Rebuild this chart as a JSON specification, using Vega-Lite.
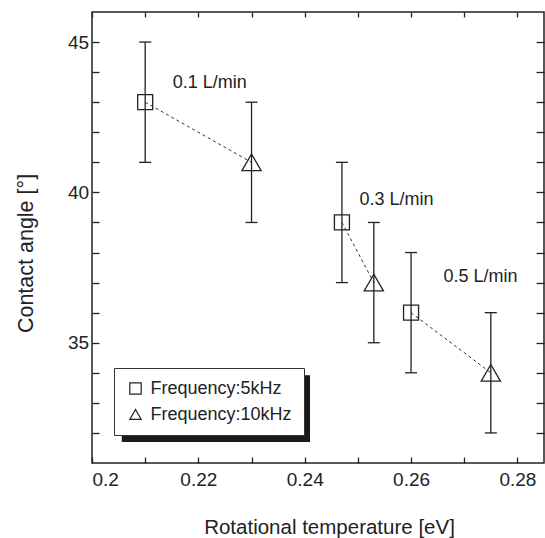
{
  "$schema": "https://vega.github.io/schema/vega-lite/v6.json",
  "width": 452,
  "height": 451,
  "autosize": "none",
  "padding": {"left": 92, "top": 12, "right": 1, "bottom": 75},
  "background": "white",
  "config": {
    "view": {"stroke": "#222", "strokeWidth": 1.5},
    "font": "Liberation Sans",
    "axis": {
      "grid": false, "domain": false, "tickColor": "#222", "tickWidth": 1.3,
      "labelColor": "#222", "labelFont": "Liberation Sans", "labelFontSize": 19,
      "titleFont": "Liberation Sans", "titleFontSize": 20, "titleFontWeight": "normal", "titleColor": "#222"
    }
  },
  "datasets": {
    "pts": [
      {"x": 0.21, "y": 43, "lo": 41, "hi": 45, "freq": "Frequency:5kHz", "flow": "0.1 L/min"},
      {"x": 0.23, "y": 41, "lo": 39, "hi": 43, "freq": "Frequency:10kHz", "flow": "0.1 L/min"},
      {"x": 0.247, "y": 39, "lo": 37, "hi": 41, "freq": "Frequency:5kHz", "flow": "0.3 L/min"},
      {"x": 0.253, "y": 37, "lo": 35, "hi": 39, "freq": "Frequency:10kHz", "flow": "0.3 L/min"},
      {"x": 0.26, "y": 36, "lo": 34, "hi": 38, "freq": "Frequency:5kHz", "flow": "0.5 L/min"},
      {"x": 0.275, "y": 34, "lo": 32, "hi": 36, "freq": "Frequency:10kHz", "flow": "0.5 L/min"}
    ],
    "notes": [
      {"x": 0.2152, "y": 43.63, "text": "0.1 L/min"},
      {"x": 0.2503, "y": 39.75, "text": "0.3 L/min"},
      {"x": 0.2661, "y": 37.18, "text": "0.5 L/min"}
    ]
  },
  "layer": [
    {
      "data": {"values": [{}]},
      "mark": {"type": "rect", "color": "#1a1a1a"},
      "encoding": {
        "x": {"datum": 0.2056, "type": "quantitative", "scale": {"domain": [0.2, 0.285], "nice": false, "zero": false}, "axis": null},
        "x2": {"datum": 0.241},
        "y": {"datum": 33.92, "type": "quantitative", "scale": {"domain": [31, 46], "nice": false, "zero": false}, "axis": null},
        "y2": {"datum": 31.7}
      }
    },
    {
      "data": {"name": "pts"},
      "mark": {"type": "line", "strokeDash": [3, 3], "strokeWidth": 1, "color": "#333"},
      "encoding": {
        "x": {"field": "x", "type": "quantitative", "scale": {"domain": [0.2, 0.285], "nice": false, "zero": false}, "axis": null},
        "y": {"field": "y", "type": "quantitative", "scale": {"domain": [31, 46], "nice": false, "zero": false}, "axis": null},
        "detail": {"field": "flow"}
      }
    },
    {
      "data": {"name": "pts"},
      "mark": {"type": "rule", "strokeWidth": 1.3, "color": "#222"},
      "encoding": {
        "x": {"field": "x", "type": "quantitative", "scale": {"domain": [0.2, 0.285], "nice": false, "zero": false},
          "axis": {"orient": "top", "values": [0.2, 0.21, 0.22, 0.23, 0.24, 0.25, 0.26, 0.27, 0.28], "labels": false, "tickSize": -5, "title": null}},
        "y": {"field": "lo", "type": "quantitative", "scale": {"domain": [31, 46], "nice": false, "zero": false},
          "axis": {"orient": "right", "values": [32, 33, 34, 35, 36, 37, 38, 39, 40, 41, 42, 43, 44, 45], "labels": false, "tickSize": -8, "title": null}},
        "y2": {"field": "hi"}
      }
    },
    {
      "data": {"name": "pts"},
      "mark": {"type": "tick", "orient": "horizontal", "size": 12, "thickness": 1.3, "color": "#222", "opacity": 1},
      "encoding": {
        "x": {"field": "x", "type": "quantitative", "scale": {"domain": [0.2, 0.285], "nice": false, "zero": false}, "axis": null},
        "y": {"field": "lo", "type": "quantitative", "scale": {"domain": [31, 46], "nice": false, "zero": false}, "axis": null}
      }
    },
    {
      "data": {"name": "pts"},
      "mark": {"type": "tick", "orient": "horizontal", "size": 12, "thickness": 1.3, "color": "#222", "opacity": 1},
      "encoding": {
        "x": {"field": "x", "type": "quantitative", "scale": {"domain": [0.2, 0.285], "nice": false, "zero": false}, "axis": null},
        "y": {"field": "hi", "type": "quantitative", "scale": {"domain": [31, 46], "nice": false, "zero": false}, "axis": null}
      }
    },
    {
      "data": {"name": "pts"},
      "transform": [{"filter": "datum.freq === 'Frequency:5kHz'"}],
      "mark": {"type": "point", "filled": false, "strokeWidth": 1.3, "color": "#222", "opacity": 1, "size": 225},
      "encoding": {
        "x": {"field": "x", "type": "quantitative", "scale": {"domain": [0.2, 0.285], "nice": false, "zero": false},
          "axis": {"orient": "bottom", "values": [0.2, 0.21, 0.22, 0.23, 0.24, 0.25, 0.26, 0.27, 0.28],
            "labelExpr": "round(datum.value * 100) % 2 === 0 ? format(datum.value, '~g') : ''",
            "tickSize": -6, "labelPadding": 13.5,
            "title": "Rotational temperature [eV]", "titleFontSize": 20.5, "titleX": 237, "titleY": 70, "titleBaseline": "alphabetic", "titleAlign": "center"}},
        "y": {"field": "y", "type": "quantitative", "scale": {"domain": [31, 46], "nice": false, "zero": false},
          "axis": {"orient": "left", "values": [32, 33, 34, 35, 36, 37, 38, 39, 40, 41, 42, 43, 44, 45],
            "labelExpr": "datum.value % 5 === 0 ? datum.label : ''",
            "tickSize": -7, "labelPadding": 10.4,
            "title": "Contact angle [°]", "titleFontSize": 21.5, "titleX": -59.4, "titleY": 241, "titleAngle": -90, "titleBaseline": "alphabetic", "titleAlign": "center"}},
        "shape": {"field": "freq", "type": "nominal",
          "scale": {"domain": ["Frequency:5kHz", "Frequency:10kHz"], "range": ["square", "triangle-up"]},
          "legend": {"orient": "none", "legendX": 22, "legendY": 356, "title": null,
            "fillColor": "white", "strokeColor": "#333", "padding": 11.5, "rowPadding": 8,
            "labelFontSize": 18, "labelFont": "Liberation Sans", "labelColor": "#222",
            "symbolSize": 130, "symbolStrokeWidth": 1.2, "symbolStrokeColor": "#222", "symbolFillColor": "transparent",
            "symbolOffset": 1, "labelOffset": 6}}
      }
    },
    {
      "data": {"name": "pts"},
      "transform": [{"filter": "datum.freq === 'Frequency:10kHz'"}],
      "mark": {"type": "point", "filled": false, "strokeWidth": 1.3, "color": "#222", "opacity": 1, "size": 370},
      "encoding": {
        "x": {"field": "x", "type": "quantitative", "scale": {"domain": [0.2, 0.285], "nice": false, "zero": false}, "axis": null},
        "y": {"field": "y", "type": "quantitative", "scale": {"domain": [31, 46], "nice": false, "zero": false}, "axis": null},
        "shape": {"field": "freq", "type": "nominal",
          "scale": {"domain": ["Frequency:5kHz", "Frequency:10kHz"], "range": ["square", "triangle-up"]}}
      }
    },
    {
      "data": {"name": "notes"},
      "mark": {"type": "text", "align": "left", "baseline": "middle", "fontSize": 18, "font": "Liberation Sans", "color": "#222"},
      "encoding": {
        "x": {"field": "x", "type": "quantitative", "scale": {"domain": [0.2, 0.285], "nice": false, "zero": false}, "axis": null},
        "y": {"field": "y", "type": "quantitative", "scale": {"domain": [31, 46], "nice": false, "zero": false}, "axis": null},
        "text": {"field": "text"}
      }
    }
  ]
}
